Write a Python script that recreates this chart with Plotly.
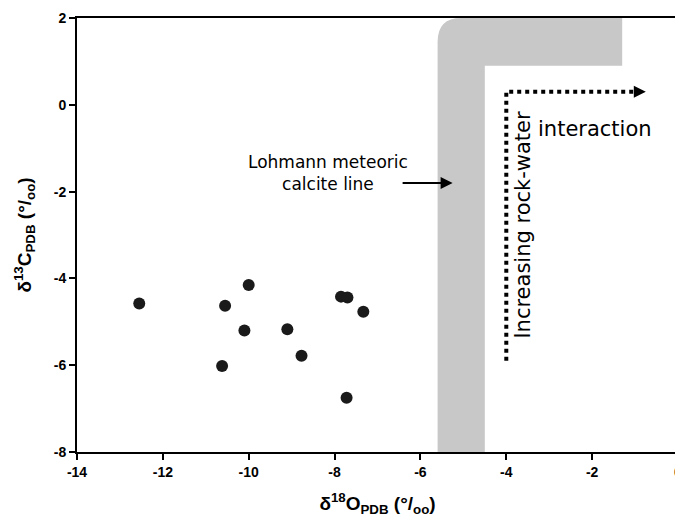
import plotly.graph_objects as go

# Sample data: d18O (x) and d13C (y)
d18O = [-12.55, -10.0, -10.55, -10.1, -9.1, -8.77, -10.62, -7.85, -7.7, -7.33, -7.72]
d13C = [-4.58, -4.15, -4.63, -5.2, -5.17, -5.78, -6.02, -4.42, -4.44, -4.77, -6.75]

x_ticks = [-14, -12, -10, -8, -6, -4, -2, 0]
y_ticks = [-8, -6, -4, -2, 0, 2]

# Lohmann meteoric calcite line band (vertical + horizontal limb)
band_x_left, band_x_right = -5.6, -4.5
band_top_inner, band_top_right = 0.9, -1.3

# Rock-water interaction path
rw_x = [-4.0, -4.0, -0.95]
rw_y = [-5.9, 0.3, 0.3]

FONT = "Liberation Sans, Arial, sans-serif"
TFONT = "DejaVu Sans, sans-serif"

fig = go.Figure()

fig.add_trace(go.Scatter(
    x=rw_x, y=rw_y, mode="lines",
    line=dict(color="black", width=4, dash="dot"),
    hoverinfo="skip", showlegend=False,
))

fig.add_trace(go.Scatter(
    x=d18O, y=d13C, mode="markers",
    marker=dict(size=12, color="#1a1a1a"),
    showlegend=False,
))

r = 0.55
path = (f"M {band_x_left},-8 L {band_x_left},{2 - r} "
        f"Q {band_x_left},2 {band_x_left + r},2 "
        f"L {band_top_right},2 L {band_top_right},{band_top_inner} "
        f"L {band_x_right},{band_top_inner} L {band_x_right},-8 Z")
fig.add_shape(type="path", path=path, xref="x", yref="y",
              fillcolor="#c8c8c8", line=dict(width=0), layer="below")

# Arrow heads / annotations
fig.add_annotation(x=-0.75, y=0.3, ax=-1.0, ay=0.3, axref="x", ayref="y",
                   xref="x", yref="y", text="", showarrow=True,
                   arrowhead=2, arrowsize=1.2, arrowwidth=2, arrowcolor="black")
fig.add_annotation(x=-5.25, y=-1.8, ax=-6.45, ay=-1.8, axref="x", ayref="y",
                   xref="x", yref="y", text="", showarrow=True,
                   arrowhead=2, arrowsize=1.2, arrowwidth=2, arrowcolor="black")
fig.add_annotation(x=-8.15, y=-1.57, xref="x", yref="y", showarrow=False,
                   text="Lohmann meteoric<br>calcite line",
                   font=dict(family=TFONT, size=17, color="black"))
fig.add_annotation(x=-1.93, y=-0.55, xref="x", yref="y", showarrow=False,
                   text="interaction",
                   font=dict(family=TFONT, size=21, color="black"))
fig.add_annotation(x=-3.6, y=-2.75, xref="x", yref="y", showarrow=False,
                   text="Increasing rock-water", textangle=-90,
                   font=dict(family=TFONT, size=21, color="black"))

axis_common = dict(
    showgrid=False, zeroline=False, showline=True, linecolor="black",
    linewidth=2, mirror=True, ticks="outside", ticklen=6, tickwidth=2,
    tickcolor="black", automargin=False,
    tickfont=dict(family=FONT, size=14, color="black", weight="bold"),
)

fig.update_layout(
    width=675, height=511,
    margin=dict(l=69, r=5, t=10, b=67),
    paper_bgcolor="white", plot_bgcolor="white",
    xaxis=dict(range=[-14, 0], tickvals=x_ticks,
               ticktext=[str(v) for v in x_ticks],
               title=dict(text="δ<sup>18</sup>O<sub>PDB</sub> (°/<sub>oo</sub>)",
                          font=dict(family=FONT, size=19, color="black", weight="bold"),
                          standoff=18),
               **axis_common),
    yaxis=dict(range=[-8, 2], tickvals=y_ticks,
               ticktext=[str(v) for v in y_ticks],
               title=dict(text="δ<sup>13</sup>C<sub>PDB</sub> (°/<sub>oo</sub>)",
                          font=dict(family=FONT, size=19, color="black", weight="bold"),
                          standoff=17),
               **axis_common),
)

fig.write_html("out.html")
